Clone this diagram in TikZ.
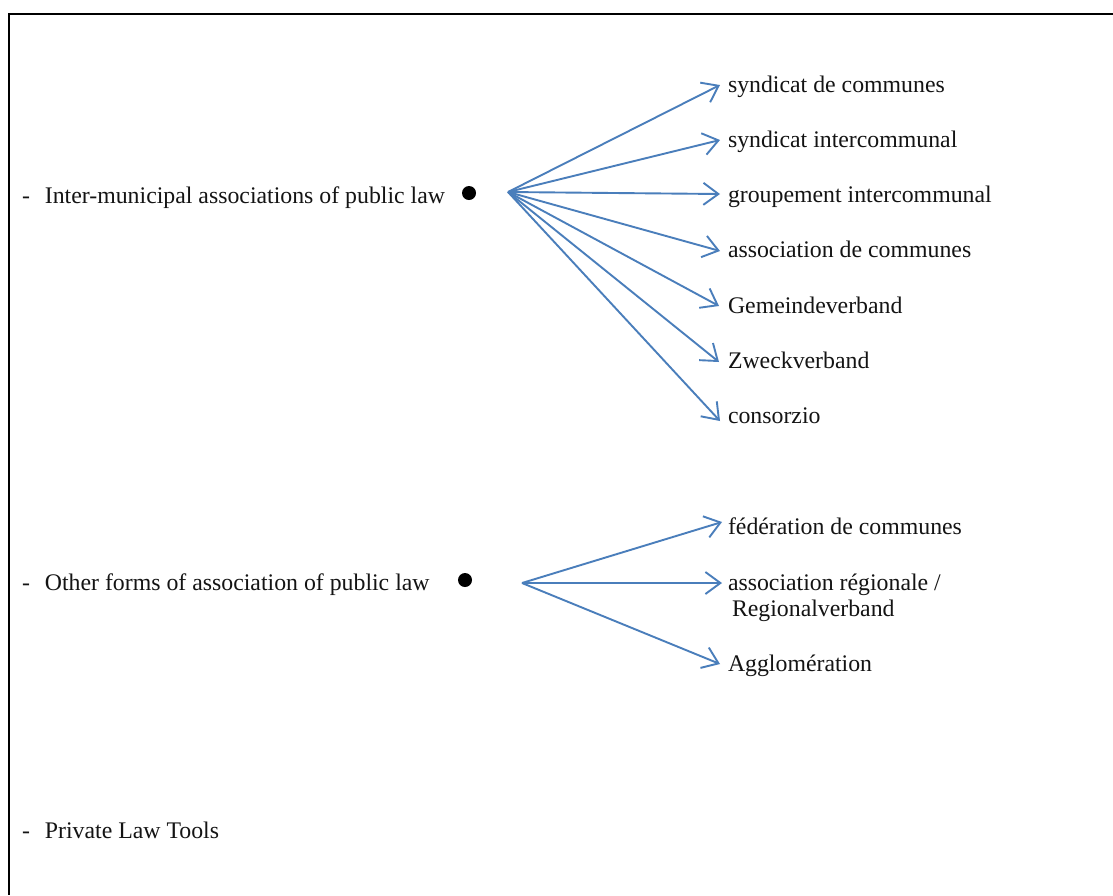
\documentclass[tikz,border=0pt]{standalone}
\usepackage{fontspec}
\setmainfont{Liberation Serif}
\usetikzlibrary{arrows.meta}
\definecolor{arrowblue}{RGB}{74,126,187}
\definecolor{textcol}{RGB}{20,20,20}
\tikzset{
  lbl/.style={anchor=base west, inner sep=0pt, outer sep=0pt, text=textcol,
    font=\fontsize{23.8pt}{27pt}\selectfont},
  fan/.style={draw=arrowblue, line width=1.9pt,
    -{Straight Barb[length=15pt,width=22pt,line width=1.9pt]}},
  bullet/.style={circle, fill=black, inner sep=0pt, minimum size=14pt},
}
\begin{document}
\begin{tikzpicture}[x=1pt,y=-1pt]
\useasboundingbox (0,0) rectangle (1113,895);
\fill[white] (0,0) rectangle (1113,895);
% frame (top and left edges only)
\draw[line width=2pt] (1113,14.3) -- (9,14.3) -- (9,895);

% group 1
\node[lbl] (g1) at (22,203) {-\hspace{15pt}Inter-municipal associations of public law};
\node[bullet] (b1) at (469,193) {};
\coordinate (o1) at (508,192);
\node[lbl] (a1) at (728,92) {syndicat de communes};
\node[lbl] (a2) at (728,147.3) {syndicat intercommunal};
\node[lbl] (a3) at (728,202.5) {groupement intercommunal};
\node[lbl] (a4) at (728,257.8) {association de communes};
\node[lbl] (a5) at (728,313) {Gemeindeverband};
\node[lbl] (a6) at (728,368) {Zweckverband};
\node[lbl] (a7) at (728,423) {consorzio};
\coordinate (t1) at (720,85);
\coordinate (t2) at (720,140);
\coordinate (t3) at (720,194);
\coordinate (t4) at (720,251);
\coordinate (t5) at (719,306);
\coordinate (t6) at (719,362);
\coordinate (t7) at (720,421);
\foreach \i in {1,...,7} \draw[fan] (o1) -- (t\i);

% group 2
\node[lbl] (g2) at (22,590) {-\hspace{15pt}Other forms of association of public law};
\node[bullet] (b2) at (465,580) {};
\coordinate (o2) at (522,583);
\node[lbl] (c1) at (728,534) {fédération de communes};
\node[lbl] (c2) at (728,590) {association régionale /};
\node[lbl] (c2b) at (732,616) {Regionalverband};
\node[lbl] (c3) at (728,671) {Agglomération};
\coordinate (s1) at (722,522);
\coordinate (s2) at (722,583);
\coordinate (s3) at (720,664);
\foreach \i in {1,2,3} \draw[fan] (o2) -- (s\i);

% group 3
\node[lbl] (g3) at (22,838) {-\hspace{15pt}Private Law Tools};
\end{tikzpicture}
\end{document}
